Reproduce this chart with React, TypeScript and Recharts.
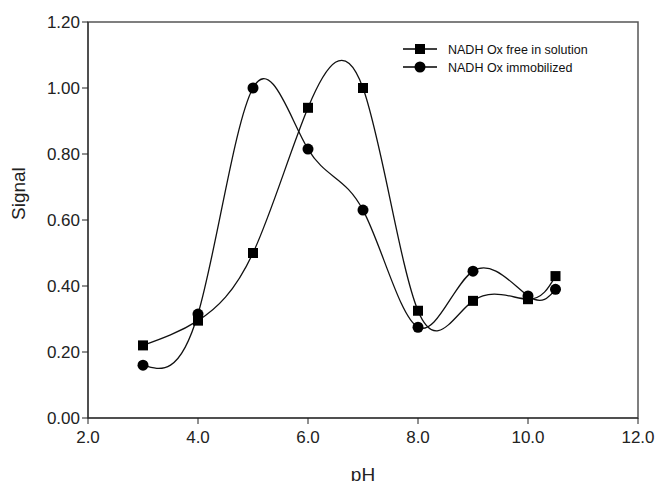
import React from 'react';
import { LineChart, Line, XAxis, YAxis, ReferenceArea } from 'recharts';

// pH values measured
const phValues = [3.0, 4.0, 5.0, 6.0, 7.0, 8.0, 9.0, 10.0, 10.5];
// signal, enzyme free in solution (squares)
const freeSignal = [0.22, 0.295, 0.5, 0.94, 1.0, 0.325, 0.355, 0.36, 0.43];
// signal, immobilized enzyme (circles)
const immobSignal = [0.16, 0.315, 1.0, 0.815, 0.63, 0.275, 0.445, 0.37, 0.39];

const xTicks = [2, 4, 6, 8, 10, 12];
const yTicks = [0, 0.2, 0.4, 0.6, 0.8, 1.0, 1.2];

const seriesNames = ['NADH Ox free in solution', 'NADH Ox immobilized'];

const data = phValues.map((ph, i) => ({ ph, free: freeSignal[i], immob: immobSignal[i] }));

const FONT = '"Liberation Sans", Arial, sans-serif';

const SquareDot = (props: any) => {
  const { cx, cy, index } = props;
  if (cx == null || cy == null) return null;
  return <rect key={`sq-${index}`} x={cx - 5} y={cy - 5} width={10} height={10} fill="#000" />;
};

const CircleDot = (props: any) => {
  const { cx, cy, index } = props;
  if (cx == null || cy == null) return null;
  return <circle key={`ci-${index}`} cx={cx} cy={cy} r={5.5} fill="#000" />;
};

// legend drawn on top of the plot, like the original figure
const LegendBox = () => (
  <svg width={230} height={40} style={{ position: 'absolute', left: 403, top: 40, overflow: 'visible' }}>
    {seriesNames.map((name, i) => {
      const y = 9 + i * 18;
      return (
        <g key={name}>
          <line x1={0} x2={34} y1={y} y2={y} stroke="#000" strokeWidth={1.5} />
          {i === 0 ? (
            <rect x={12} y={y - 5} width={10} height={10} fill="#000" />
          ) : (
            <circle cx={17} cy={y} r={5.5} fill="#000" />
          )}
          <text x={45} y={y + 4.5} fontSize={12.5} fontFamily={FONT} fill="#111">
            {name}
          </text>
        </g>
      );
    })}
  </svg>
);

const App: React.FC = () => {
  return (
    <div style={{ position: 'absolute', left: 0, top: 0, width: 661, height: 481, background: '#fff' }}>
      <LineChart
        width={661}
        height={481}
        data={data}
        margin={{ top: 22, right: 23, left: 0, bottom: 0 }}
      >
        <ReferenceArea x1={2} x2={12} y1={0} y2={1.2} fill="none" stroke="#555" strokeWidth={1.5} ifOverflow="visible" />
        <XAxis
          dataKey="ph"
          type="number"
          domain={[2, 12]}
          ticks={xTicks}
          tickFormatter={(v: number) => v.toFixed(1)}
          height={63}
          tickSize={6}
          stroke="#222"
          tick={{ fill: '#222', fontSize: 17, fontFamily: FONT, dy: 5 }}
          label={{ value: 'pH', position: 'insideBottom', offset: 0, dy: 0, fill: '#222', fontSize: 19, fontFamily: FONT }}
        />
        <YAxis
          type="number"
          domain={[0, 1.2]}
          ticks={yTicks}
          tickFormatter={(v: number) => v.toFixed(2)}
          width={88}
          tickSize={6}
          stroke="#222"
          tick={{ fill: '#222', fontSize: 17, fontFamily: FONT }}
          label={{ value: 'Signal', angle: -90, position: 'insideLeft', offset: 18, fill: '#222', fontSize: 19, fontFamily: FONT }}
        />
        <Line
          type="natural"
          dataKey="free"
          name={seriesNames[0]}
          stroke="#111"
          strokeWidth={1.3}
          dot={SquareDot}
          activeDot={false}
          isAnimationActive={false}
        />
        <Line
          type="natural"
          dataKey="immob"
          name={seriesNames[1]}
          stroke="#111"
          strokeWidth={1.3}
          dot={CircleDot}
          activeDot={false}
          isAnimationActive={false}
        />
      </LineChart>
      <LegendBox />
    </div>
  );
};

export default App;
